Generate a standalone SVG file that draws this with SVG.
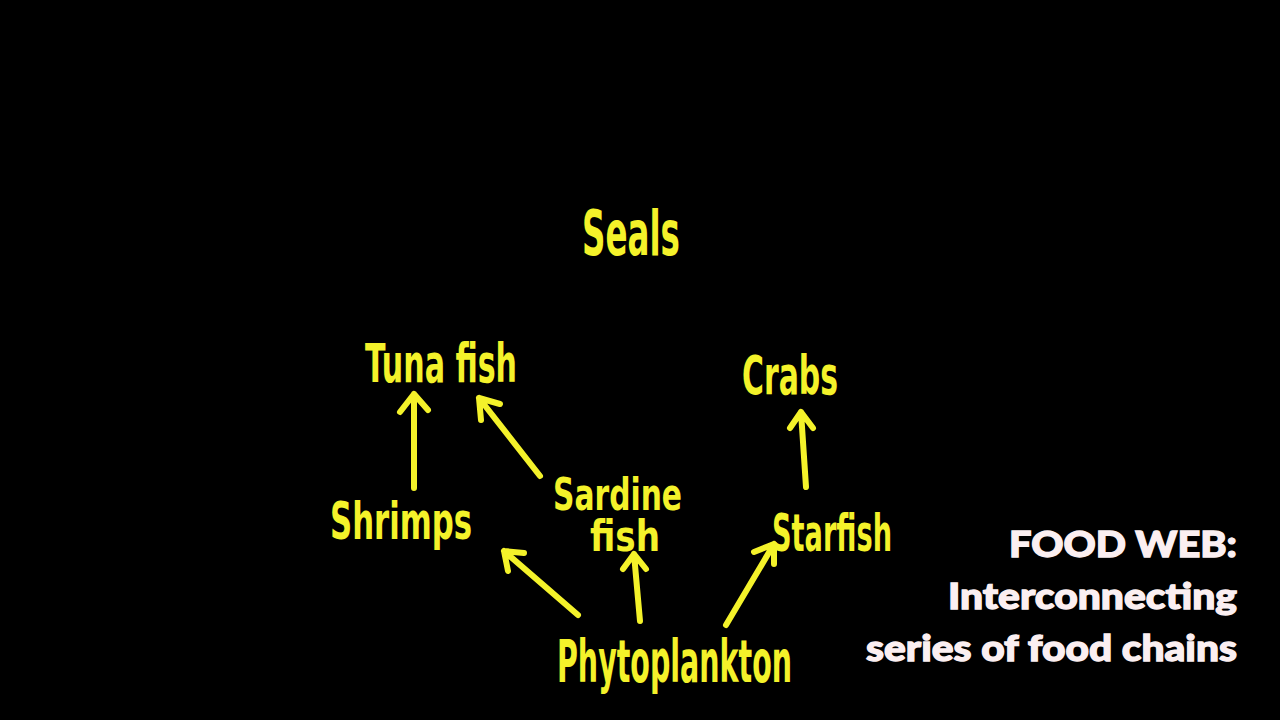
<svg xmlns="http://www.w3.org/2000/svg" width="1280" height="720" viewBox="0 0 1280 720">
<defs>
<style>
.lbl{font-family:"DejaVu Sans Condensed","DejaVu Sans",sans-serif;fill:#f4f22a;font-weight:bold;}
.cap{font-family:Lato,"Liberation Sans",sans-serif;font-weight:900;fill:#fbeff1;stroke:#fbeff1;stroke-width:1.3;text-anchor:end;font-size:36px;}
.arr{stroke:#f4f22a;stroke-width:6;stroke-linecap:round;stroke-linejoin:round;fill:none;}
</style>
</defs>
<rect width="1280" height="720" fill="#000"/>
<g id="connectors">
<path class="arr" d="M414,488 L414,394 M400,412 L414,394 L428,410"/>
<path class="arr" d="M540,476 L479,398 M481,420 L479,398 L500,404"/>
<path class="arr" d="M806,487 L801,412 M790,428 L801,412 L813,428"/>
<path class="arr" d="M578,615 L504,551 M508,571 L504,551 L524,553"/>
<path class="arr" d="M640,621 L634,554 M623,569 L634,554 L646,569"/>
<path class="arr" d="M726,625 L774,544 M754,552 L774,544 L774,564"/>
</g>
<g id="seals"><text class="lbl" x="582" y="255" font-size="62" textLength="98" lengthAdjust="spacingAndGlyphs">Seals</text></g>
<g id="tuna"><text class="lbl" x="365" y="382" font-size="54" textLength="152" lengthAdjust="spacingAndGlyphs">Tuna fish</text></g>
<g id="crabs"><text class="lbl" x="742" y="394" font-size="54" textLength="96" lengthAdjust="spacingAndGlyphs">Crabs</text></g>
<g id="shrimps"><text class="lbl" x="330" y="539" font-size="52" textLength="142" lengthAdjust="spacingAndGlyphs">Shrimps</text></g>
<g id="sardine"><text class="lbl" x="553" y="510" font-size="44" textLength="129" lengthAdjust="spacingAndGlyphs">Sardine</text>
<text class="lbl" x="590" y="551" font-size="42" textLength="70" lengthAdjust="spacingAndGlyphs">fish</text></g>
<g id="starfish"><text class="lbl" x="772" y="551" font-size="52" textLength="120" lengthAdjust="spacingAndGlyphs">Starfish</text></g>
<g id="phyto"><text class="lbl" x="557" y="682" font-size="58" textLength="235" lengthAdjust="spacingAndGlyphs">Phytoplankton</text></g>
<g id="caption">
<text class="cap" x="1237" y="557" textLength="228" lengthAdjust="spacingAndGlyphs">FOOD WEB:</text>
<text class="cap" x="1237" y="609" textLength="289" lengthAdjust="spacingAndGlyphs">Interconnecting</text>
<text class="cap" x="1237" y="661" textLength="371" lengthAdjust="spacingAndGlyphs">series of food chains</text>
</g>
</svg>
